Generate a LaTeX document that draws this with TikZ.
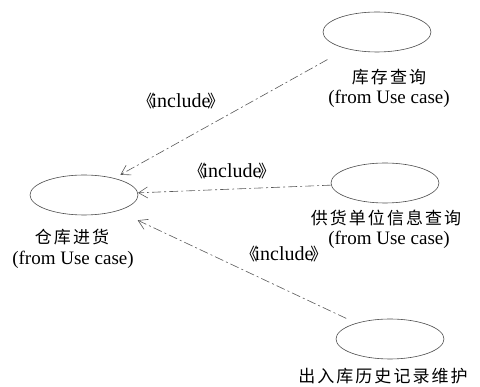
\documentclass[tikz,border=0pt]{standalone}
\usepackage{fontspec}
\setmainfont{Liberation Serif}
\newfontfamily\cjk[LetterSpace=12]{Noto Sans CJK SC}
\newfontfamily\cjkp{Noto Sans CJK SC}
\usetikzlibrary{shapes.geometric,arrows.meta}
\newcommand{\incl}{{\fontsize{17}{19}\selectfont\cjkp 《}\hspace{-3pt}include\hspace{-3pt}{\fontsize{17}{19}\selectfont\cjkp 》}}
\begin{document}
\begin{tikzpicture}[x=1pt,y=-1pt,
 uc/.style={ellipse, draw=black!70, line width=0.6pt, minimum width=108pt, minimum height=40pt, inner sep=0pt},
 dep/.style={draw=black!65, line width=0.6pt, dash pattern=on 9pt off 3pt on 2pt off 3pt, -{Straight Barb[length=9pt,width=11pt]}},
 cn/.style={font=\fontsize{17}{19}\selectfont\cjk, inner sep=0pt},
 en/.style={font=\fontsize{19}{21}\selectfont, inner sep=0pt},
 st/.style={font=\fontsize{20}{22}\selectfont, inner sep=0pt}]
\useasboundingbox (0,0) rectangle (480,387);
\node[uc] (ck) at (84,195) {};
\node[uc] (kc) at (377,32) {};
\node[uc] (gh) at (385,183) {};
\node[uc] (cr) at (390,339) {};
\node[cn] (ckt) at (72,237) {仓库进货};
\node[en] (ckf) at (73,260) {(from Use case)};
\node[cn] (kct) at (389,77) {库存查询};
\node[en] (kcf) at (389,99) {(from Use case)};
\node[cn] (ght) at (386,218) {供货单位信息查询};
\node[en] (ghf) at (389,240) {(from Use case)};
\node[cn] (crt) at (383,376) {出入库历史记录维护};
\node[st] (i1) at (181,101) {\incl};
\node[st] (i2) at (232,171) {\incl};
\node[st] (i3) at (284,254) {\incl};
\draw[dep, shorten <=22pt, shorten >=7pt] (kc) -- (ck);
\draw[dep] (gh) -- (ck);
\draw[dep, shorten <=11pt, shorten >=22pt] (cr) -- (ck);
\end{tikzpicture}
\end{document}
